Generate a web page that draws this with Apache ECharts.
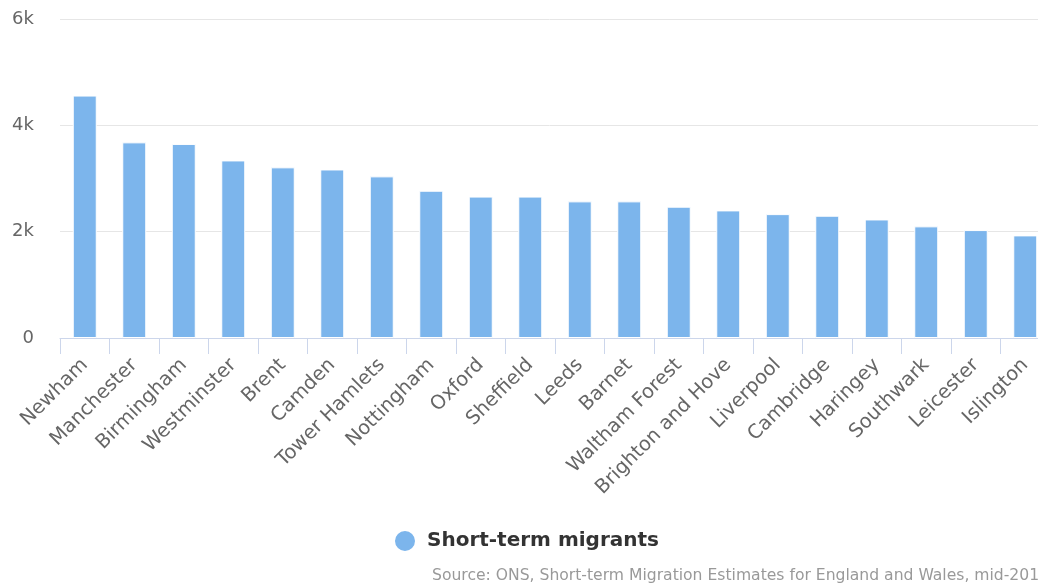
<!DOCTYPE html>
<html>
<head>
<meta charset="utf-8">
<script src="https://cdn.jsdelivr.net/npm/echarts@6/dist/echarts.min.js"></script>
<style>
  html, body { margin: 0; padding: 0; background: #fff; }
  #chart { width: 1038px; height: 583px; }
</style>
</head>
<body>
<div id="chart"></div>
<script>
// local authorities, sorted by estimate
var areas = ['Newham', 'Manchester', 'Birmingham', 'Westminster', 'Brent', 'Camden',
  'Tower Hamlets', 'Nottingham', 'Oxford', 'Sheffield', 'Leeds', 'Barnet',
  'Waltham Forest', 'Brighton and Hove', 'Liverpool', 'Cambridge', 'Haringey',
  'Southwark', 'Leicester', 'Islington'];
var migrants = [4560, 3680, 3650, 3340, 3210, 3170, 3040, 2770, 2660, 2660,
  2570, 2570, 2470, 2400, 2330, 2300, 2230, 2100, 2030, 1930];
var yTicks = [0, 2000, 4000, 6000];
var seriesName = 'Short-term migrants';
var sourceText = 'Source: ONS, Short-term Migration Estimates for England and Wales, mid-201';

var chartDom = document.getElementById('chart');
var myChart = echarts.init(chartDom);
var font = 'DejaVu Sans';

var option = {
  animation: false,
  // plot runs past the right edge, the original was cropped
  grid: { left: 60, width: 990, top: 19, bottom: 245, outerBoundsMode: 'none', containLabel: false },
  legend: {
    data: [seriesName],
    top: 524,
    left: 388,
    icon: 'circle',
    itemWidth: 22,
    itemHeight: 22,
    textStyle: {
      fontFamily: font, fontSize: 20, fontWeight: 'bold', color: '#333',
      padding: [0, 0, 0, 6]
    }
  },
  xAxis: {
    type: 'category',
    data: areas,
    axisLine: { lineStyle: { color: '#ccd6eb', width: 1 } },
    axisTick: { show: true, length: 16, lineStyle: { color: '#ccd6eb' } },
    axisLabel: {
      interval: 0,
      rotate: 45,
      margin: 24,
      color: '#666',
      fontFamily: font,
      fontSize: 19.5
    }
  },
  yAxis: {
    type: 'value',
    min: yTicks[0],
    max: yTicks[yTicks.length - 1],
    interval: 2000,
    axisLine: { show: false },
    axisTick: { show: false },
    splitLine: { lineStyle: { color: '#e6e6e6', width: 1 } },
    axisLabel: {
      margin: 26,
      color: '#666',
      fontFamily: font,
      fontSize: 18,
      formatter: function (v) { return v === 0 ? '0' : (v / 1000) + 'k'; }
    }
  },
  series: [
    {
      name: seriesName,
      type: 'bar',
      data: migrants,
      barWidth: 24,
      itemStyle: { color: '#7cb5ec', borderColor: '#fff', borderWidth: 1 }
    }
  ],
  graphic: [
    {
      type: 'text',
      left: 432,
      top: 568,
      style: { text: sourceText, fontFamily: font, fontSize: 15.6, fill: '#999' }
    }
  ]
};
option && myChart.setOption(option);
</script>
</body>
</html>
